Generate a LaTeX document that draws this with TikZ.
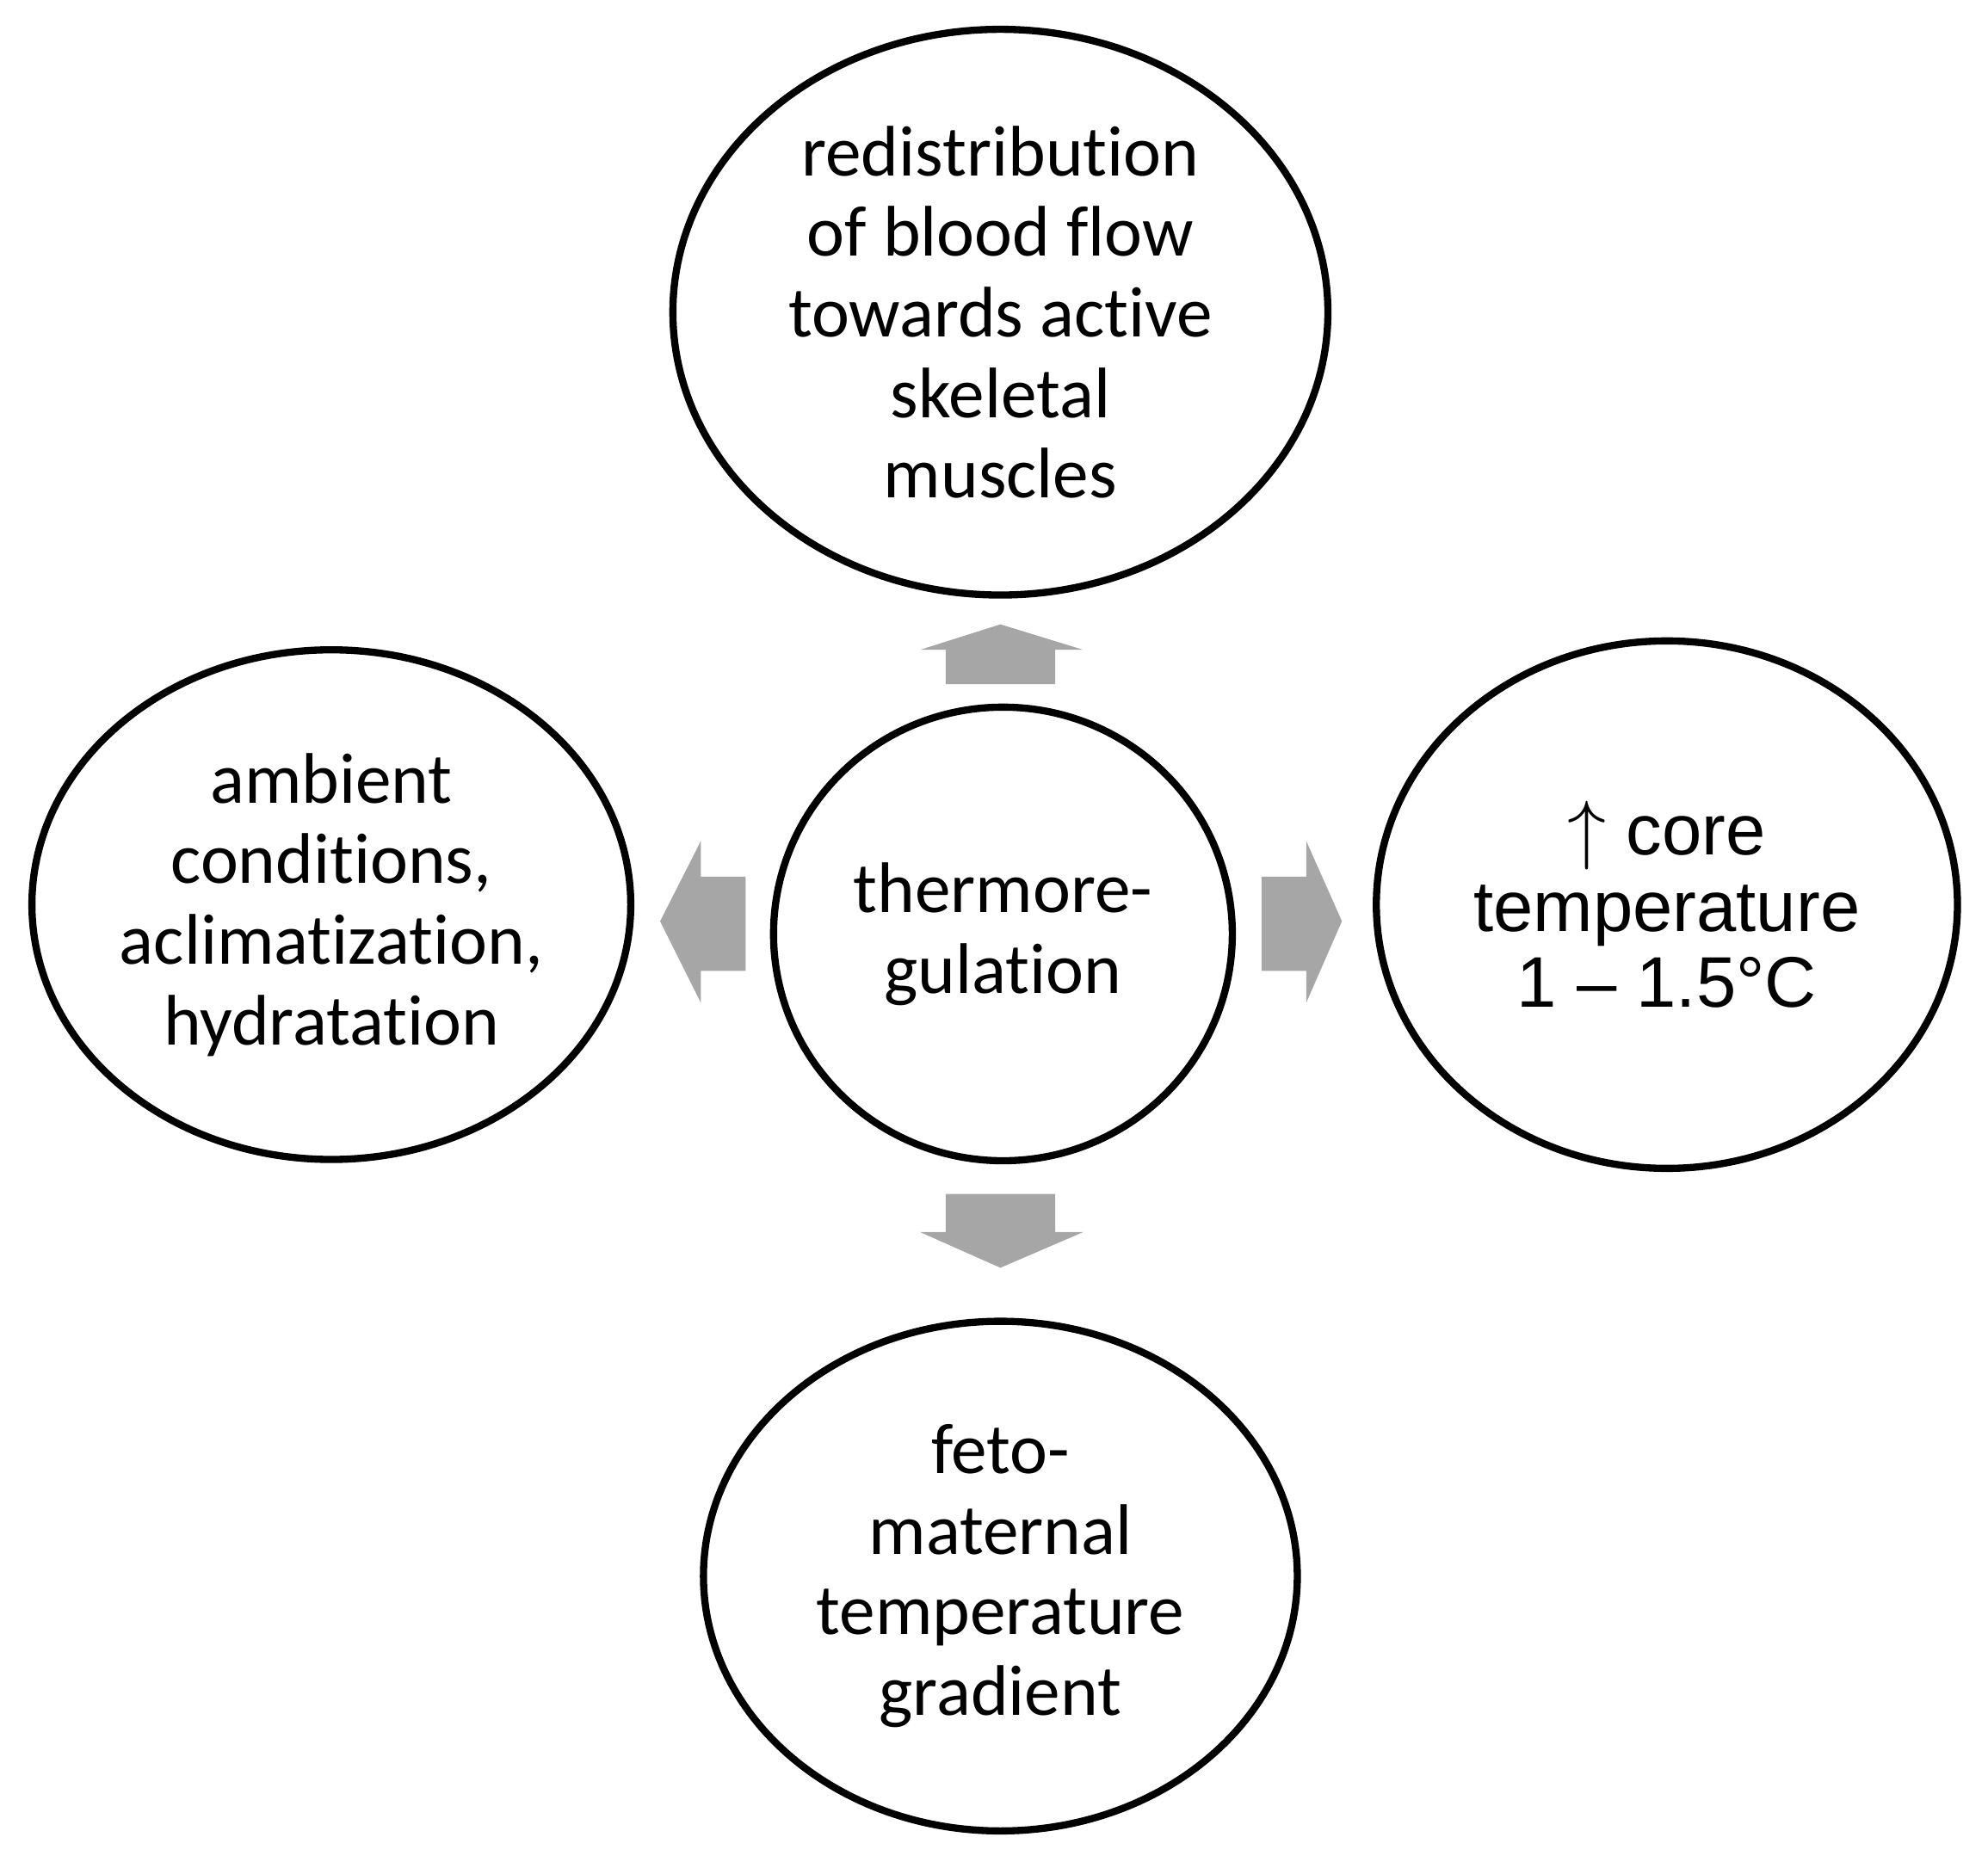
\documentclass[tikz,border=0pt]{standalone}
\usepackage{fontspec}
\setmainfont{Carlito}[Ligatures = NoCommon]
\newfontfamily\arialfont{Liberation Sans}
\usetikzlibrary{positioning,shapes.geometric}
\begin{document}
\begin{tikzpicture}[
    bubble/.style = {draw, ellipse, line width = 1.6pt, align = center, inner sep = 0pt, font = \fontsize{16}{18}\selectfont},
    blockarrow/.style = {fill = black!35, draw = none}]
        \useasboundingbox (0,0) rectangle (15.6,-14.66);
        \node [bubble, minimum width = 5.14cm, minimum height = 4.44cm] (T) at (7.85,-2.45) {redistribution\\of blood flow\\towards active\\skeletal\\muscles};
        \node [bubble, minimum width = 4.6cm, minimum height = 4.0cm] (L) at (2.6,-7.1) {ambient\\conditions,\\aclimatization,\\hydratation};
        \node [bubble, minimum width = 3.6cm, minimum height = 3.56cm] (C) at (7.87,-7.33) {thermore-\\gulation};
        \node [bubble, minimum width = 4.56cm, minimum height = 4.14cm, font = \arialfont\fontsize{16}{17}\selectfont] (R) at (13.08,-7.1) {$\uparrow$ core\\temperature\\1 \textendash\ 1.5°C};
        \node [bubble, minimum width = 4.66cm, minimum height = 4.0cm] (B) at (7.85,-12.37) {feto-\\maternal\\temperature\\gradient};
        % block arrows
        \fill [blockarrow] (7.42,-5.37) -- (7.42,-5.10) -- (7.22,-5.10) -- (7.85,-4.90) -- (8.50,-5.10) -- (8.28,-5.10) -- (8.28,-5.37) -- cycle;
        \fill [blockarrow] (7.42,-9.37) -- (7.42,-9.67) -- (7.22,-9.67) -- (7.85,-9.95) -- (8.50,-9.67) -- (8.28,-9.67) -- (8.28,-9.37) -- cycle;
        \fill [blockarrow] (5.85,-6.88) -- (5.50,-6.88) -- (5.50,-6.60) -- (5.18,-7.23) -- (5.50,-7.87) -- (5.50,-7.62) -- (5.85,-7.62) -- cycle;
        \fill [blockarrow] (9.90,-6.88) -- (10.25,-6.88) -- (10.25,-6.60) -- (10.53,-7.23) -- (10.25,-7.87) -- (10.25,-7.62) -- (9.90,-7.62) -- cycle;
\end{tikzpicture}
\end{document}
